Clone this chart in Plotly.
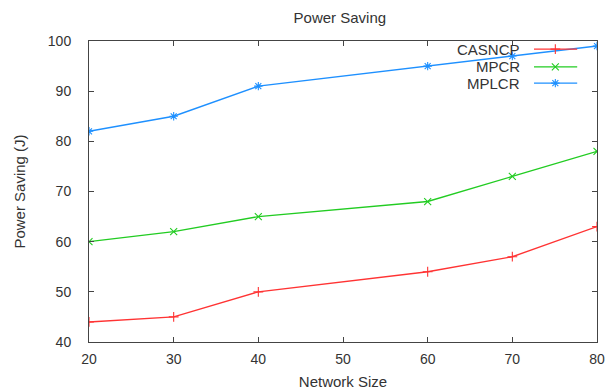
import plotly.graph_objects as go

# Network sizes and power saving (J) per protocol
network_size = [20, 30, 40, 60, 70, 80]
casncp = [44, 45, 50, 54, 57, 63]
mpcr = [60, 62, 65, 68, 73, 78]
mplcr = [82, 85, 91, 95, 97, 99]

series = [
    ("CASNCP", casncp, "#ff3333", "cross-thin"),
    ("MPCR", mpcr, "#22cc22", "x-thin"),
    ("MPLCR", mplcr, "#1e90ff", "asterisk"),
]

FONT = "Liberation Sans, Arial, sans-serif"
TEXT = "#333333"
AXIS = "#444444"

fig = go.Figure()
for name, vals, color, sym in series:
    fig.add_trace(go.Scatter(
        x=network_size, y=vals, mode="lines+markers", name=name,
        line=dict(color=color, width=1.4),
        marker=dict(symbol=sym, size=7, line=dict(color=color, width=1.1)),
        showlegend=False,
    ))

# gnuplot-style key: label right-aligned, sample line + marker to its right
key_rows = [0.973, 0.914, 0.860]
for (name, vals, color, sym), ky in zip(series, key_rows):
    fig.add_annotation(xref="paper", yref="paper", x=0.853, y=ky, text=name,
                       showarrow=False, xanchor="right", yanchor="middle",
                       font=dict(family=FONT, size=15, color=TEXT))
    fig.add_shape(type="line", xref="paper", yref="paper",
                  x0=0.876, x1=0.961, y0=ky, y1=ky,
                  line=dict(color=color, width=1.4))
    fig.add_trace(go.Scatter(
        x=[0.918], y=[ky], xaxis="x2", yaxis="y2", mode="markers",
        marker=dict(symbol=sym, size=7, line=dict(color=color, width=1.1)),
        showlegend=False, hoverinfo="skip",
    ))

axis_common = dict(
    showline=True, linecolor=AXIS, linewidth=1, mirror="ticks",
    ticks="inside", ticklen=5, tickcolor=AXIS, tickwidth=1,
    showgrid=False, zeroline=False, automargin=False,
    tickfont=dict(family=FONT, size=14, color=TEXT),
)

fig.update_layout(
    width=609, height=390,
    margin=dict(l=89, r=12, t=41, b=48),
    paper_bgcolor="white", plot_bgcolor="white",
    title=dict(text="Power Saving", x=0.558, xanchor="center", y=0.955,
               yanchor="middle", font=dict(family=FONT, size=15, color=TEXT)),
    xaxis=dict(range=[20, 80], dtick=10, tick0=20, ticklabelstandoff=4,
               title=dict(text="Network Size", standoff=10,
                          font=dict(family=FONT, size=15, color=TEXT)),
               **axis_common),
    yaxis=dict(range=[40, 100], dtick=10, tick0=40, ticklabelstandoff=14,
               title=dict(text="Power Saving (J)", standoff=18,
                          font=dict(family=FONT, size=15, color=TEXT)),
               **axis_common),
    xaxis2=dict(range=[0, 1], overlaying="x", visible=False),
    yaxis2=dict(range=[0, 1], overlaying="y", visible=False),
)

fig.write_html("out.html")
